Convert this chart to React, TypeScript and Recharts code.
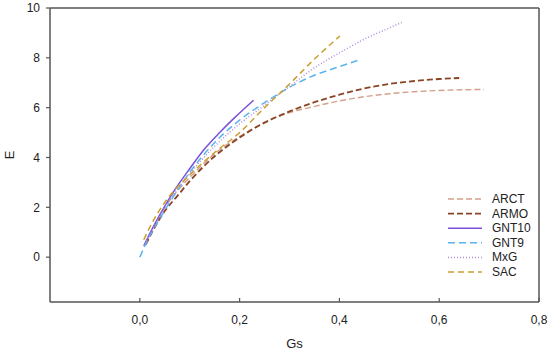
import React from 'react';
import { LineChart, Line, XAxis, YAxis, ReferenceLine, Legend } from 'recharts';

const xTicks = [0, 0.2, 0.4, 0.6, 0.8];
const yTicks = [0, 2, 4, 6, 8, 10];

const arctGs = [0.012, 0.03, 0.05, 0.075, 0.1, 0.15, 0.2, 0.25, 0.3, 0.35, 0.4, 0.45, 0.5, 0.55, 0.6, 0.65, 0.69];
const arctE = [0.55, 1.3, 2.0, 2.65, 3.2, 4.15, 4.85, 5.4, 5.8, 6.05, 6.27, 6.44, 6.56, 6.64, 6.69, 6.72, 6.73];

const armoGs = [0.012, 0.03, 0.05, 0.075, 0.1, 0.15, 0.2, 0.25, 0.3, 0.35, 0.4, 0.45, 0.5, 0.55, 0.6, 0.64];
const armoE = [0.5, 1.2, 1.85, 2.45, 3.05, 4.05, 4.8, 5.4, 5.85, 6.22, 6.52, 6.77, 6.95, 7.07, 7.15, 7.19];

const gnt10Gs = [0.008, 0.02, 0.04, 0.07, 0.1, 0.13, 0.16, 0.19, 0.228];
const gnt10E = [0.45, 0.95, 1.7, 2.7, 3.55, 4.35, 5.0, 5.6, 6.3];

const gnt9Gs = [0, 0.01, 0.03, 0.06, 0.1, 0.15, 0.2, 0.25, 0.3, 0.35, 0.4, 0.437];
const gnt9E = [0, 0.45, 1.2, 2.2, 3.4, 4.6, 5.5, 6.2, 6.82, 7.3, 7.65, 7.9];

const mxgGs = [0.01, 0.03, 0.06, 0.1, 0.15, 0.2, 0.25, 0.3, 0.35, 0.4, 0.45, 0.5, 0.525];
const mxgE = [0.55, 1.3, 2.3, 3.35, 4.45, 5.35, 6.1, 6.85, 7.6, 8.2, 8.75, 9.2, 9.42];

const sacGs = [0.008, 0.02, 0.05, 0.1, 0.15, 0.2, 0.25, 0.3, 0.35, 0.401];
const sacE = [0.7, 1.2, 2.2, 3.3, 4.2, 5.0, 6.0, 6.95, 7.95, 8.88];

const toPoints = (gs: number[], e: number[]) => gs.map((g, i) => ({ gs: g, e: e[i] }));

const series = [
  { name: 'ARCT', data: toPoints(arctGs, arctE), color: '#d4a08a', dash: '6 3', width: 1.4 },
  { name: 'ARMO', data: toPoints(armoGs, armoE), color: '#8a4426', dash: '6 3', width: 1.8 },
  { name: 'GNT10', data: toPoints(gnt10Gs, gnt10E), color: '#7a50d8', dash: undefined, width: 1.5 },
  { name: 'GNT9', data: toPoints(gnt9Gs, gnt9E), color: '#5ab4ee', dash: '7 4', width: 1.5 },
  { name: 'MxG', data: toPoints(mxgGs, mxgE), color: '#b08ed8', dash: '1 2', width: 1.5 },
  { name: 'SAC', data: toPoints(sacGs, sacE), color: '#c8a030', dash: '6 4', width: 1.5 },
];

const FONT = '"Liberation Sans", Arial, sans-serif';
const AXIS = '#555';

const XTick = (props: any) => {
  const { x, y, payload } = props;
  const label = Number(payload.value).toFixed(1).replace('.', ',');
  return (
    <g>
      <line x1={x} y1={y} x2={x} y2={y - 4} stroke={AXIS} strokeWidth={1.2} />
      <text x={x} y={y + 18} textAnchor="middle" dominantBaseline="central" fontSize={12} fill="#222" fontFamily={FONT}>
        {label}
      </text>
    </g>
  );
};

const renderLegend = () => (
  <svg width={105} height={95} style={{ display: 'block' }}>
    {series.map((s, i) => {
      const cy = 9 + i * 14.6;
      return (
        <g key={s.name}>
          <line x1={3} y1={cy} x2={37} y2={cy} stroke={s.color} strokeWidth={s.width} strokeDasharray={s.dash} />
          <text x={47} y={cy} dominantBaseline="central" fontSize={12} fill="#222" fontFamily={FONT}>
            {s.name}
          </text>
        </g>
      );
    })}
  </svg>
);

export default function App() {
  return (
    <div style={{ position: 'absolute', left: 0, top: 0, width: 550, height: 351, background: '#fff' }}>
      <LineChart width={550} height={351} margin={{ top: 8, right: 11, bottom: 0, left: 0 }}>
        <XAxis
          dataKey="gs"
          type="number"
          domain={[-0.18, 0.8]}
          ticks={xTicks}
          allowDataOverflow
          height={49}
          tickSize={0}
          tickMargin={0}
          tickLine={false}
          axisLine={{ stroke: AXIS, strokeWidth: 1.5 }}
          tick={<XTick />}
          label={(p: any) => {
            const vb = p.viewBox;
            return (
              <text x={vb.x + vb.width / 2} y={vb.y + 41} textAnchor="middle" dominantBaseline="central" fontSize={13} fill="#222" fontFamily={FONT}>
                Gs
              </text>
            );
          }}
        />
        <YAxis
          dataKey="e"
          type="number"
          domain={[-1.8, 10]}
          ticks={yTicks}
          allowDataOverflow
          width={50}
          tickSize={4}
          tickMargin={6}
          tickLine={{ stroke: AXIS, strokeWidth: 1.2 }}
          axisLine={{ stroke: AXIS, strokeWidth: 1.5 }}
          tick={{ fontSize: 12, fill: '#222', fontFamily: FONT }}
          label={(p: any) => {
            const vb = p.viewBox;
            const cx = vb.x + 9;
            const cy = vb.y + vb.height / 2;
            return (
              <text x={cx} y={cy} transform={`rotate(-90 ${cx} ${cy})`} textAnchor="middle" dominantBaseline="central" fontSize={13} fill="#222" fontFamily={FONT}>
                E
              </text>
            );
          }}
        />
        <ReferenceLine y={10} stroke={AXIS} strokeWidth={1.5} />
        <ReferenceLine x={0.8} stroke={AXIS} strokeWidth={1.5} />
        {series.map((s) => (
          <Line
            key={s.name}
            data={s.data}
            dataKey="e"
            name={s.name}
            type="monotone"
            stroke={s.color}
            strokeWidth={s.width}
            strokeDasharray={s.dash}
            dot={false}
            activeDot={false}
            isAnimationActive={false}
          />
        ))}
        <Legend
          layout="vertical"
          align="center"
          verticalAlign="middle"
          content={renderLegend}
          wrapperStyle={{ left: 445, top: 190, width: 105, height: 95 }}
        />
      </LineChart>
    </div>
  );
}
